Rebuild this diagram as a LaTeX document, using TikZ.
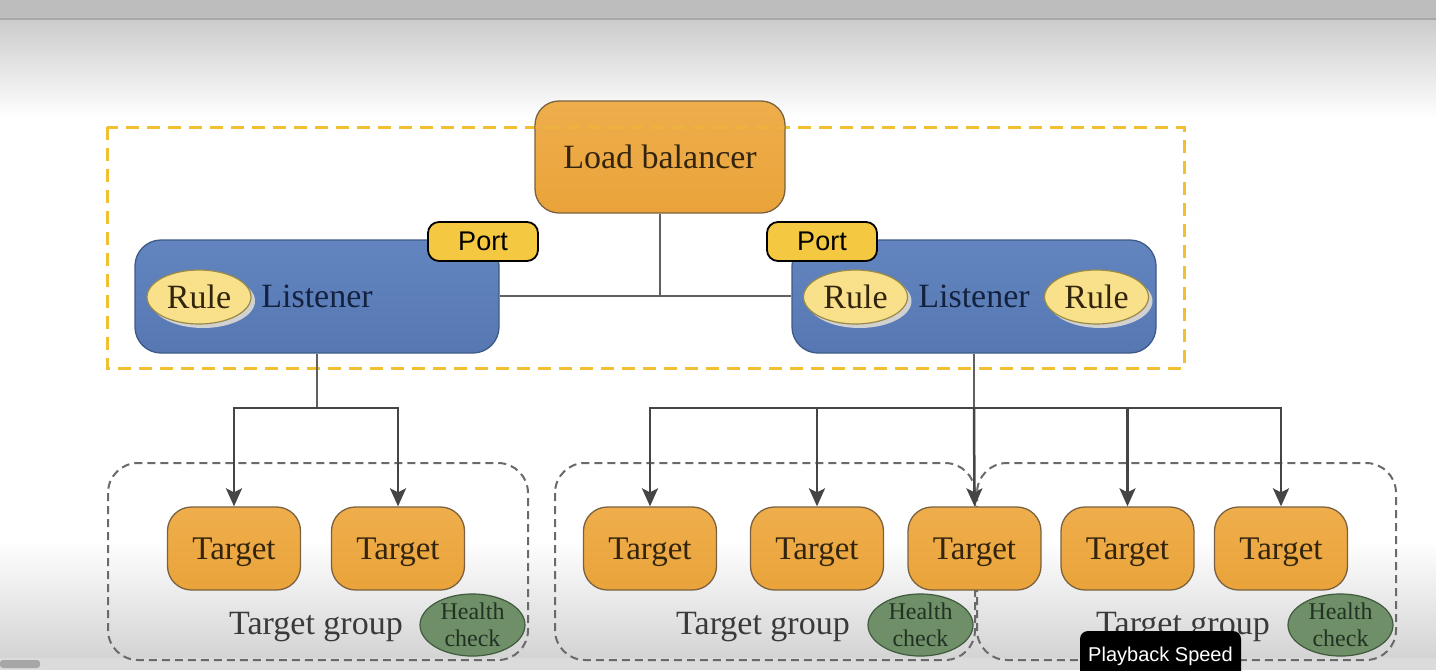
\documentclass[tikz,border=0pt]{standalone}
\usepackage{fontspec}
\setmainfont{Liberation Serif}
\newfontfamily\portfont{Liberation Sans}
\usetikzlibrary{arrows.meta,shapes.geometric}
\definecolor{lborange}{HTML}{EEAE4C}
\definecolor{lborangeb}{HTML}{EAA33A}
\definecolor{orbord}{HTML}{7A6240}
\definecolor{lisblue}{HTML}{6285C0}
\definecolor{lisblueb}{HTML}{5677B2}
\definecolor{lisbord}{HTML}{3E5A88}
\definecolor{rulefill}{HTML}{F8E18A}
\definecolor{rulebord}{HTML}{9A8A48}
\definecolor{portfill}{HTML}{F5C842}
\definecolor{hcfill}{HTML}{6F8F68}
\definecolor{hcbord}{HTML}{3F5A3C}
\definecolor{dashyel}{HTML}{F0C030}
\definecolor{grpgray}{HTML}{6A6A6A}
\definecolor{lingray}{HTML}{606060}
\definecolor{arrgray}{HTML}{454545}
\definecolor{txtbrown}{HTML}{33240E}
\definecolor{txtnavy}{HTML}{14223F}
\definecolor{txtgray}{HTML}{3A3A3A}
\definecolor{txtgreen}{HTML}{223222}
\tikzset{
  orangebox/.style={draw=orbord, line width=1.3pt, top color=lborange, bottom color=lborangeb, rounded corners=24pt, inner sep=0pt, text=txtbrown},
  lbbox/.style={orangebox, minimum width=250pt, minimum height=112pt, font=\fontsize{34}{40}\selectfont},
  targetbox/.style={orangebox, minimum width=133pt, minimum height=83pt, text depth=0pt, font=\fontsize{33}{40}\selectfont},
  listenerbox/.style={draw=lisbord, line width=1.3pt, top color=lisblue, bottom color=lisblueb, rounded corners=26pt, minimum width=364pt, minimum height=113pt, inner sep=0pt, text=txtnavy, font=\fontsize{34}{40}\selectfont},
  rulebox/.style={ellipse, draw=rulebord, line width=1.2pt, fill=rulefill, minimum width=104pt, minimum height=54pt, inner sep=0pt, text=txtbrown, font=\fontsize{34}{40}\selectfont},
  rulesh/.style={ellipse, fill=black!18, minimum width=104pt, minimum height=54pt, inner sep=0pt},
  portbox/.style={draw=black, line width=1.8pt, fill=portfill, rounded corners=11pt, minimum width=110pt, minimum height=39pt, inner sep=0pt, font=\portfont\fontsize{27}{32}\selectfont},
  hcbox/.style={ellipse, draw=hcbord, line width=1.2pt, fill=hcfill, minimum width=105pt, minimum height=56pt, inner sep=0pt, text=txtgreen, align=center, font=\fontsize{24}{27}\selectfont},
  grpbox/.style={draw=grpgray, line width=2pt, dash pattern=on 8pt off 5pt, rounded corners=30pt},
  grplabel/.style={text=txtgray, font=\fontsize{34}{40}\selectfont, inner sep=0pt, text depth=0pt},
  conn/.style={draw=lingray, line width=2.5pt},
  arr/.style={conn, -{Stealth[length=18pt,width=16pt,inset=4pt]}, arrgray},
  yeldash/.style={draw=dashyel, line width=3pt, dash pattern=on 13pt off 8pt},
}
\begin{document}
\begin{tikzpicture}[x=1pt,y=-1pt]
\clip (0,0) rectangle (1436,670);
\useasboundingbox (0,0) rectangle (1436,670);
% background
\fill[white] (0,0) rectangle (1436,670);
\fill[black!26] (0,0) rectangle (1436,18);
\fill[black!34] (0,18) rectangle (1436,20.5);
\shade[top color=black!20, bottom color=white] (0,20.5) rectangle (1436,118);
\shade[top color=white, bottom color=black!17] (0,540) rectangle (1436,658);
\fill[black!14] (0,658) rectangle (1436,670);
\fill[black!35, rounded corners=3pt] (0,660) rectangle (40,668);

% yellow dashed frame
\draw[yeldash] (107,127) rectangle (1184,368);

% target groups
\draw[grpbox] (108,463) rectangle (528,660);
\draw[grpbox] (555,463) rectangle (975,660);
\draw[grpbox] (977,463) rectangle (1396,660);

% load balancer
\node[lbbox] (lb) at (660,157) {Load balancer};
\begin{scope}
\clip (535,101) rectangle (785,213);
\draw[yeldash, draw opacity=0.35] (107,127) rectangle (1184,368);
\end{scope}

% listeners
\node[listenerbox] (lisL) at (317,296.5) {Listener};
\node[listenerbox] (lisR) at (974,296.5) {Listener};

% connectors LB -> listeners
\coordinate (jTop) at (660,296);
\draw[conn] (lb.south) -- (jTop);
\draw[conn] (lisL.east |- jTop) -- (lisR.west |- jTop);

% rules
\node[rulesh] at (203,301) {};
\node[rulebox] (ruleL) at (199,297) {Rule};
\node[rulesh] at (859.5,301) {};
\node[rulebox] (ruleR1) at (855.5,297) {Rule};
\node[rulesh] at (1100.5,301) {};
\node[rulebox] (ruleR2) at (1096.5,297) {Rule};

% ports
\node[portbox] (portL) at (483,241.5) {Port};
\node[portbox] (portR) at (822,241.5) {Port};

% targets
\node[targetbox] (t1) at (234,548.5) {Target};
\node[targetbox] (t2) at (398,548.5) {Target};
\node[targetbox] (t3) at (650,548.5) {Target};
\node[targetbox] (t4) at (817,548.5) {Target};
\node[targetbox] (t5) at (974.5,548.5) {Target};
\node[targetbox] (t6) at (1127.5,548.5) {Target};
\node[targetbox] (t7) at (1281,548.5) {Target};

% connectors listeners -> targets
\coordinate (jL) at (317,408);
\coordinate (jR) at (974,408);
\draw[conn] (lisL.south) -- (jL);
\draw[conn] (lisR.south) -- (jR);
\draw[arr] (jL) -| (t1.north);
\draw[arr] (jL) -| (t2.north);
\draw[arr] (jR) -| (t3.north);
\draw[arr] (jR) -| (t4.north);
\draw[arr] (jR) -- (t5.north);
\draw[arr] (jR) -| (t6.north);
\draw[arr] (jR) -| (t7.north);

% group labels and health checks
\node[grplabel] (g1) at (316,623) {Target group};
\node[grplabel] (g2) at (763,623) {Target group};
\node[grplabel] (g3) at (1183,623) {Target group};
\node[hcbox] (h1) at (472.5,625) {Health\\check};
\node[hcbox] (h2) at (920.5,625) {Health\\check};
\node[hcbox] (h3) at (1340.5,625) {Health\\check};

% playback tooltip
\fill[black, rounded corners=8pt] (1080,631) rectangle (1241,690);
\node[text=white, font=\portfont\fontsize{20}{24}\selectfont, inner sep=0pt] (pb) at (1160.5,656) {Playback Speed};
\end{tikzpicture}
\end{document}
